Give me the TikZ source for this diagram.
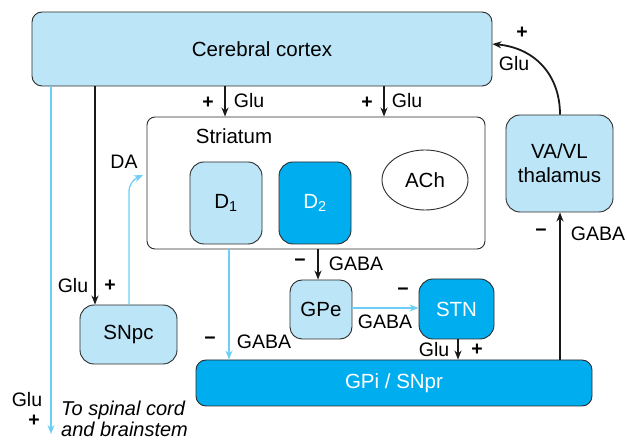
\documentclass[tikz,border=0pt]{standalone}
\usepackage{fontspec}
\setmainfont{Liberation Sans}
\usetikzlibrary{arrows.meta,shapes.geometric}
\definecolor{lb}{HTML}{BDE5F8}
\definecolor{db}{HTML}{00AEEF}
\definecolor{ln}{HTML}{6DCFF6}
\definecolor{bd}{HTML}{2B2B2B}
\tikzset{
  box/.style={draw=bd,line width=0.9pt,rounded corners=#1,inner sep=0pt,font=\fontsize{20.5}{24}\selectfont,align=center},
  box/.default=12pt,
  blk/.style={draw=black!90,line width=1.8pt,-{Stealth[length=9pt,width=7pt]}},
  blu/.style={draw=ln,line width=1.3pt,-{Stealth[length=9pt,width=7pt]}},
  lab/.style={inner sep=0pt,font=\fontsize{19.5}{23}\selectfont},
  pm/.style={inner sep=0pt,font=\fontsize{19.5}{23}\selectfont\bfseries},
}
\begin{document}
\begin{tikzpicture}[x=1pt,y=-1pt]
\useasboundingbox (0,0) rectangle (627,443);
% boxes
\node[box=10pt,fill=lb,minimum width=460pt,minimum height=74pt] (cortex) at (262,49) {Cerebral cortex};
\node[box=8pt,fill=white,minimum width=338pt,minimum height=132pt] (striatum) at (316,183) {};
\node[lab,font=\fontsize{20.5}{24}\selectfont] (strlab) at (234,136) {Striatum};
\node[box=14pt,fill=lb,minimum width=72pt,minimum height=82pt] (d1) at (226,203) {D\textsubscript{1}};
\node[box=14pt,fill=db,text=white,minimum width=72pt,minimum height=82pt] (d2) at (315,203) {D\textsubscript{2}};
\node[ellipse,draw=bd,line width=0.9pt,fill=white,minimum width=86pt,minimum height=60pt,inner sep=0pt,font=\fontsize{20.5}{24}\selectfont] (ach) at (425,180) {ACh};
\node[box=14pt,fill=lb,minimum width=107pt,minimum height=97pt] (thal) at (559.5,163.5) {VA/VL\\thalamus};
\node[box=14pt,fill=lb,minimum width=97pt,minimum height=59pt] (snpc) at (128.5,334.5) {SNpc};
\node[box=12pt,fill=lb,minimum width=62pt,minimum height=59pt] (gpe) at (321,309.5) {GPe};
\node[box=14pt,fill=db,text=white,minimum width=75pt,minimum height=60pt] (stn) at (456.5,309) {STN};
\node[box=10pt,fill=db,text=white,minimum width=396pt,minimum height=46pt] (gpi) at (394,383) {GPi / SNpr};
% coordinates
\coordinate (spinal) at (51,434);
\coordinate (daend) at (143,175);
% cortex -> striatum
\draw[blk] (cortex.south -| 225,0) -- (striatum.north -| 225,0);
\node[pm] (p1) at (208,103) {+};
\node[lab] (g1) at (249,101) {Glu};
\draw[blk] (cortex.south -| 384,0) -- (striatum.north -| 384,0);
\node[pm] (p2) at (367,103) {+};
\node[lab] (g2) at (407,101) {Glu};
% cortex -> SNpc
\draw[blk] (cortex.south -| 95,0) -- (snpc.north -| 95,0);
\node[lab] (g3) at (73,286) {Glu};
\node[pm] (p3) at (110,286) {+};
% cortex -> spinal cord
\draw[blu] (cortex.south -| 51,0) -- (spinal);
\node[lab] (g4) at (27,400) {Glu};
\node[pm] (p4) at (34,421) {+};
\node[lab,font=\fontsize{20}{21.5}\selectfont\itshape,align=left,anchor=west] (sp) at (61,419) {To spinal cord\\and brainstem};
% SNpc -> striatum (DA)
\draw[blu] (snpc.north -| 129,0) -- (129,192) .. controls (129,184) and (134,179) .. (daend);
\node[lab] (da) at (124,162) {DA};
% D1 -> GPi
\draw[blu] (striatum.south -| 229,0) -- (gpi.north -| 229,0);
\node[pm] (m1) at (210,341) {\textminus};
\node[lab] (ga1) at (264,342) {GABA};
% striatum -> GPe
\draw[blk] (striatum.south -| 318,0) -- (gpe.north -| 318,0);
\node[pm] (m2) at (300,263) {\textminus};
\node[lab] (ga2) at (356,264) {GABA};
% GPe -> STN
\draw[blu] (gpe.east |- 0,308) -- (stn.west |- 0,308);
\node[pm] (m3) at (403,292) {\textminus};
\node[lab] (ga3) at (385,322) {GABA};
% STN -> GPi
\draw[blk] (stn.south -| 458,0) -- (gpi.north -| 458,0);
\node[lab] (g5) at (434,350) {Glu};
\node[pm] (p5) at (477,350) {+};
% GPi -> thalamus
\draw[blk] (gpi.north -| 560,0) -- (thal.south -| 560,0);
\node[pm] (m4) at (541,233) {\textminus};
\node[lab] (ga4) at (598,234) {GABA};
% thalamus -> cortex
\draw[blk] (thal.north -| 560,0) .. controls (560,75) and (535,48) .. (cortex.east |- 0,44);
\node[pm] (p6) at (522,33) {+};
\node[lab] (g6) at (514,64) {Glu};
\end{tikzpicture}
\end{document}
